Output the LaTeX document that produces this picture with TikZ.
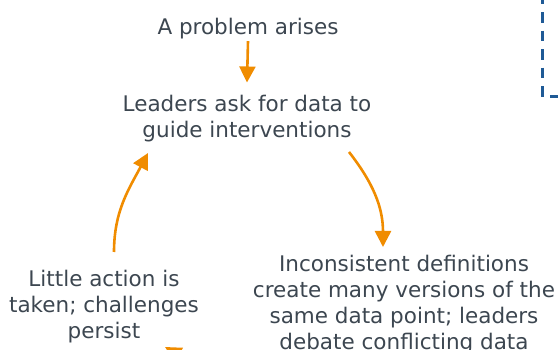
\documentclass[tikz,border=0pt]{standalone}
\usepackage{fontspec}
\setmainfont{DejaVu Sans}
\usetikzlibrary{arrows.meta}
\definecolor{txtgray}{RGB}{60,70,80}
\definecolor{cycorange}{RGB}{240,140,0}
\definecolor{frameblue}{RGB}{31,90,150}

\begin{document}
\begin{tikzpicture}[x=1pt,y=1pt,
  stage/.style={text=txtgray, align=center, inner sep=0pt, anchor=base,
    font=\fontsize{21.5}{26}\selectfont},
  cyc/.style={draw=cycorange, line width=2.6pt,
    -{Triangle[length=16pt,width=16pt]}},
  frame/.style={draw=frameblue, line width=2.4pt, dash pattern=on 10.5pt off 8pt}]
  \useasboundingbox (0,0) rectangle (558,-350);
  \clip (0,0) rectangle (558,-350);
  % the cycle (base = last line)
  \node[stage] (problem) at (248,-34.5) {A problem arises};
  \node[stage] (leaders) at (247,-138) {Leaders ask for data to\\guide interventions};
  \node[stage] (inconsistent) at (404,-350) {Inconsistent definitions\\create many versions of the\\same data point; leaders\\debate conflicting data};
  \node[stage] (little) at (104,-339) {Little action is\\taken; challenges\\persist};
  \coordinate (below) at (280,-395);
  \draw[cyc] ([yshift=-2pt]problem.south) -- ([yshift=13pt]leaders.north);
  \draw[cyc] (349,-152) to[out=-52,in=90] (383,-247);
  \draw[cyc] (114,-252) to[out=90,in=-118] (148,-153);
  \draw[cyc] (below) to[out=165,in=-30] (165,-347);
  % dashed frame of the next panel
  \draw[frame] (542.3,6.3) -- (542.3,-96.7) -- (640,-96.7);
\end{tikzpicture}
\end{document}
